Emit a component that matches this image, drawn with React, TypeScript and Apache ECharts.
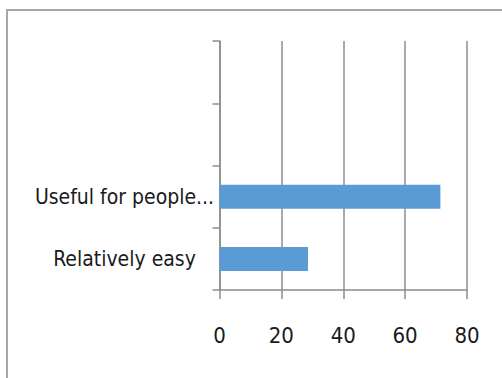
import React, { useEffect, useRef } from "react";
import * as echarts from "echarts";

const categories = ["Relatively easy", "Useful for people...", "", ""];
const values = [28.6, 71.4, null, null];
const xTicks = [0, 20, 40, 60, 80];

const FONT = "'DejaVu Sans Condensed', 'Liberation Sans Narrow', sans-serif";

export default function App() {
  const ref = useRef<HTMLDivElement>(null);
  useEffect(() => {
    const chart = echarts.init(ref.current!, null, { renderer: "svg" });
    chart.setOption({
      animation: false,
      backgroundColor: "#ffffff",
      graphic: [
        {
          type: "rect",
          shape: { x: 7, y: 10, width: 600, height: 500 },
          style: { fill: "none", stroke: "#a6a6a6", lineWidth: 2 },
          silent: true,
        },
      ],
      grid: { left: 219.5, right: 35, top: 41, bottom: 88, containLabel: false },
      xAxis: {
        type: "value",
        min: xTicks[0],
        max: xTicks[xTicks.length - 1],
        interval: 20,
        axisLine: { show: true, lineStyle: { color: "#8c8c8c", width: 1.5 } },
        axisTick: { show: true, length: 9, lineStyle: { color: "#8c8c8c", width: 1.5 } },
        splitLine: { show: true, lineStyle: { color: "#8c8c8c", width: 1.5 } },
        axisLabel: {
          margin: 34,
          color: "#1a1a1a",
          fontSize: 22,
          fontFamily: FONT,
        },
      },
      yAxis: {
        type: "category",
        data: categories,
        boundaryGap: true,
        axisLine: { show: true, lineStyle: { color: "#8c8c8c", width: 1.5 } },
        axisTick: { show: true, length: 7, interval: 0, lineStyle: { color: "#8c8c8c", width: 1.5 } },
        splitLine: { show: false },
        axisLabel: {
          interval: 0,
          margin: 95,
          align: "center",
          color: "#1a1a1a",
          fontSize: 21,
          fontFamily: FONT,
        },
      },
      series: [
        {
          type: "bar",
          data: values,
          barWidth: 24,
          itemStyle: { color: "#5b9bd5" },
        },
      ],
    });
    return () => chart.dispose();
  }, []);
  return (
    <div
      ref={ref}
      style={{ position: "fixed", left: 0, top: 0, width: 502, height: 378, background: "#fff" }}
    />
  );
}
